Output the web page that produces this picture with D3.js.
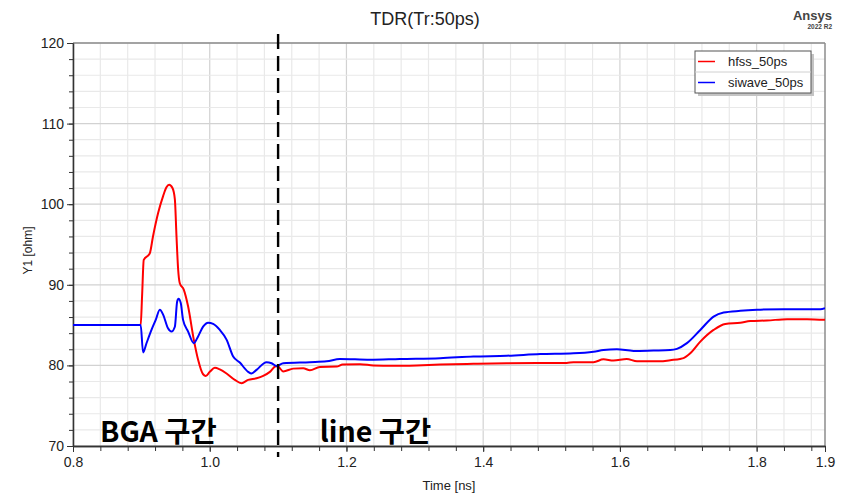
<!DOCTYPE html>
<html>
<head>
<meta charset="utf-8">
<script src="https://cdn.jsdelivr.net/npm/d3@7"></script>
<style>
  html, body { margin: 0; padding: 0; background: #fff; }
  svg { display: block; }
  text { font-family: "Liberation Sans", Arial, sans-serif; }
</style>
</head>
<body>
<svg id="chart" width="843" height="494"></svg>
<script>
// TDR impedance traces, time in ns, impedance in ohm
const hfssTime = [0.80, 0.899, 0.901, 0.9035, 0.9123, 0.917, 0.9245, 0.9318, 0.9367, 0.9406, 0.9455, 0.949, 0.9514, 0.9538, 0.9562, 0.962, 0.9684, 0.9767, 0.983, 0.9903, 0.9943, 1.0001, 1.0075, 1.0148, 1.0246, 1.0367, 1.0466, 1.0562, 1.0685, 1.0782, 1.088, 1.0968, 1.1001, 1.1075, 1.122, 1.1367, 1.1466, 1.161, 1.1856, 1.1944, 1.2198, 1.2393, 1.2685, 1.3028, 1.3369, 1.3857, 1.4346, 1.5222, 1.532, 1.5614, 1.576, 1.5906, 1.61, 1.625, 1.659, 1.6736, 1.688, 1.6931, 1.7029, 1.7176, 1.737, 1.7541, 1.7761, 1.7908, 1.8152, 1.8445, 1.8738, 1.9];
const hfssOhm = [85.0, 85.0, 88.5, 93.1, 93.9, 96.0, 98.9, 101.0, 102.1, 102.4, 102.0, 100.6, 96.0, 91.9, 90.2, 89.4, 87.3, 83.2, 80.7, 78.9, 78.7, 79.2, 79.7, 79.5, 79.0, 78.2, 77.8, 78.2, 78.4, 78.7, 79.2, 79.9, 79.85, 79.25, 79.6, 79.65, 79.4, 79.8, 79.85, 80.1, 80.15, 80.0, 79.95, 80.0, 80.1, 80.2, 80.27, 80.3, 80.4, 80.4, 80.75, 80.6, 80.8, 80.5, 80.5, 80.65, 80.8, 80.9, 81.5, 82.95, 84.4, 85.15, 85.3, 85.5, 85.57, 85.74, 85.74, 85.65];

const siwaveTime = [0.80, 0.899, 0.9025, 0.9075, 0.9148, 0.921, 0.927, 0.9318, 0.939, 0.944, 0.949, 0.9523, 0.9543, 0.9577, 0.961, 0.9684, 0.9767, 0.983, 0.9903, 0.9977, 1.005, 1.0148, 1.0246, 1.0343, 1.044, 1.0562, 1.0612, 1.0685, 1.083, 1.0905, 1.0978, 1.1075, 1.1466, 1.171, 1.1905, 1.2344, 1.278, 1.3369, 1.3857, 1.4346, 1.4833, 1.532, 1.5614, 1.576, 1.5956, 1.62, 1.6492, 1.6736, 1.6834, 1.698, 1.7176, 1.737, 1.7517, 1.7761, 1.8006, 1.8396, 1.8933, 1.9];
const siwaveOhm = [85.0, 85.0, 81.6, 82.75, 84.4, 85.65, 86.9, 86.3, 84.6, 84.2, 84.8, 87.9, 88.26, 87.7, 85.65, 84.2, 82.76, 83.6, 84.8, 85.3, 85.15, 84.4, 83.2, 81.1, 80.35, 79.2, 79.0, 79.45, 80.4, 80.27, 79.94, 80.27, 80.4, 80.5, 80.8, 80.7, 80.8, 80.9, 81.1, 81.2, 81.4, 81.5, 81.7, 81.9, 82.0, 81.8, 81.85, 81.9, 82.05, 82.76, 84.4, 86.06, 86.56, 86.77, 86.9, 86.98, 86.98, 87.1];

const seriesNames = ["hfss_50ps", "siwave_50ps"];
const seriesColors = ["#ff0000", "#0000ff"];

const xTickLabels = [0.8, 1.0, 1.2, 1.4, 1.6, 1.8, 1.9];
const yTickLabels = [70, 80, 90, 100, 110, 120];
const dividerTime = 1.1;
const regionLabels = ["BGA 구간", "line 구간"];
const regionTimes = [0.8395, 1.161];

const svg = d3.select("#chart");
const plot = { left: 73, right: 825, top: 43, bottom: 446 };

const x = d3.scaleLinear().domain([0.8, 1.9]).range([plot.left, plot.right]);
const y = d3.scaleLinear().domain([70, 120]).range([plot.bottom, plot.top]);

const minorX = d3.range(0, 28).map(i => +(0.8 + i * 0.04).toFixed(2));
const majorX = [0.8, 1.0, 1.2, 1.4, 1.6, 1.8];
const minorY = d3.range(70, 121, 2);

// grid
const grid = svg.append("g");
grid.selectAll(".vmin").data(minorX).join("line")
  .attr("x1", d => x(d)).attr("x2", d => x(d))
  .attr("y1", plot.top).attr("y2", plot.bottom)
  .attr("stroke", d => majorX.some(m => Math.abs(m - d) < 1e-6) ? "#d2d2d2" : "#e9e9e9")
  .attr("stroke-width", 1.2);
grid.selectAll(".hmin").data(minorY).join("line")
  .attr("x1", plot.left).attr("x2", plot.right)
  .attr("y1", d => y(d)).attr("y2", d => y(d))
  .attr("stroke", d => d % 10 === 0 ? "#d2d2d2" : "#e9e9e9")
  .attr("stroke-width", 1.2);

// frame (top and right)
svg.append("line").attr("x1", plot.left).attr("x2", plot.right)
  .attr("y1", plot.top).attr("y2", plot.top).attr("stroke", "#8c8c8c").attr("stroke-width", 1.5);
svg.append("line").attr("x1", plot.right).attr("x2", plot.right)
  .attr("y1", plot.top).attr("y2", plot.bottom).attr("stroke", "#8c8c8c").attr("stroke-width", 1.5);

// axes: minor ticks
const xMinor = svg.append("g").attr("transform", `translate(0,${plot.bottom})`)
  .call(d3.axisBottom(x).tickValues(minorX).tickSize(5).tickSizeOuter(0).tickFormat(""));
const yMinor = svg.append("g").attr("transform", `translate(${plot.left},0)`)
  .call(d3.axisLeft(y).tickValues(minorY).tickSize(4).tickSizeOuter(0).tickFormat(""));

// axes: labelled ticks
const xAxis = svg.append("g").attr("transform", `translate(0,${plot.bottom})`)
  .call(d3.axisBottom(x).tickValues(xTickLabels).tickSize(6).tickSizeOuter(0).tickPadding(5)
    .tickFormat(d3.format(".1f")));
const yAxis = svg.append("g").attr("transform", `translate(${plot.left},0)`)
  .call(d3.axisLeft(y).tickValues(yTickLabels).tickSize(6).tickSizeOuter(0).tickPadding(3)
    .tickFormat(d3.format("d")));

[xMinor, yMinor, xAxis, yAxis].forEach(g => {
  g.selectAll(".domain").attr("stroke", "#333").attr("stroke-width", 1.3);
  g.selectAll(".tick line").attr("stroke", "#333");
  g.selectAll("text").attr("fill", "#222").style("font-size", "14px")
    .style("font-family", '"Liberation Sans", Arial, sans-serif');
});

// axis titles
svg.append("text").attr("x", (plot.left + plot.right) / 2).attr("y", 490)
  .attr("text-anchor", "middle").style("font-size", "13px").attr("fill", "#222")
  .text("Time [ns]");
svg.append("text").attr("transform", `translate(32,${(plot.top + plot.bottom) / 2 + 6}) rotate(-90)`)
  .attr("text-anchor", "middle").style("font-size", "12px").attr("fill", "#222")
  .text("Y1 [ohm]");

// title and branding
svg.append("text").attr("x", 425).attr("y", 25).attr("text-anchor", "middle")
  .style("font-size", "18px").attr("fill", "#222").text("TDR(Tr:50ps)");
svg.append("text").attr("x", 832).attr("y", 20).attr("text-anchor", "end")
  .style("font-size", "13px").style("font-weight", "bold").attr("fill", "#444").text("Ansys");
svg.append("text").attr("x", 832).attr("y", 29).attr("text-anchor", "end")
  .style("font-size", "6.5px").style("font-weight", "bold").attr("fill", "#444").text("2022 R2");

// traces
svg.append("clipPath").attr("id", "plotClip").append("rect")
  .attr("x", plot.left).attr("y", plot.top)
  .attr("width", plot.right - plot.left).attr("height", plot.bottom - plot.top);

const line = d3.line().x(d => x(d[0])).y(d => y(d[1])).curve(d3.curveMonotoneX);
const traces = [
  d3.zip(hfssTime, hfssOhm),
  d3.zip(siwaveTime, siwaveOhm)
];
svg.append("g").attr("clip-path", "url(#plotClip)")
  .selectAll("path").data(traces).join("path")
  .attr("d", line).attr("fill", "none")
  .attr("stroke", (d, i) => seriesColors[i])
  .attr("stroke-width", 2).attr("stroke-linejoin", "round");

// section divider
svg.append("line").attr("x1", x(dividerTime)).attr("x2", x(dividerTime))
  .attr("y1", plot.top - 9).attr("y2", plot.bottom + 11)
  .attr("stroke", "#000").attr("stroke-width", 2.4).attr("stroke-dasharray", "15,7");

// section labels
svg.selectAll(".region").data(regionLabels).join("text")
  .attr("x", (d, i) => x(regionTimes[i])).attr("y", 442)
  .style("font-family", '"Noto Sans CJK KR", "Noto Sans", sans-serif')
  .style("font-weight", "bold").style("font-size", "28.5px").attr("fill", "#000")
  .text(d => d);

// legend
const lg = svg.append("g").attr("transform", "translate(695,51)");
const lw = 116, lh = 42;
lg.append("rect").attr("x", 3).attr("y", 3).attr("width", lw).attr("height", lh).attr("fill", "#c4c4c4");
lg.append("rect").attr("x", 0).attr("y", 0).attr("width", lw).attr("height", lh)
  .attr("fill", "#fff").attr("stroke", "#555").attr("stroke-width", 1);
lg.append("line").attr("x1", 0).attr("x2", lw).attr("y1", lh / 2).attr("y2", lh / 2)
  .attr("stroke", "#d0d0d0");
seriesNames.forEach((name, i) => {
  const cy = 10.5 + i * 21;
  lg.append("line").attr("x1", 3).attr("x2", 20).attr("y1", cy).attr("y2", cy)
    .attr("stroke", seriesColors[i]).attr("stroke-width", 1.5);
  lg.append("text").attr("x", 33).attr("y", cy + 4.5).style("font-size", "13px")
    .attr("fill", "#222").text(name);
});
</script>
</body>
</html>
